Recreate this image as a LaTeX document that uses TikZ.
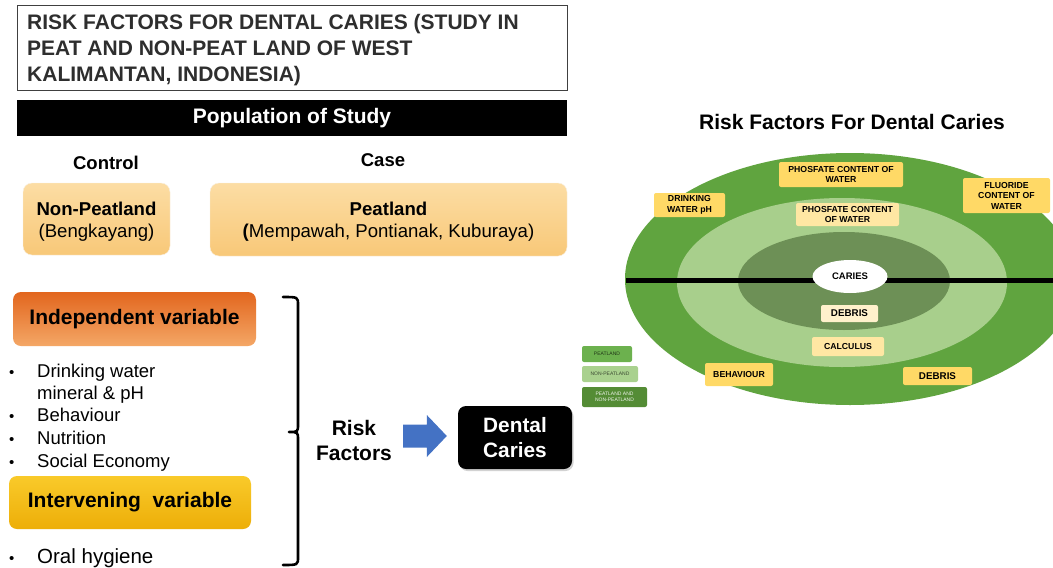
\documentclass[tikz,border=0pt]{standalone}
\usepackage{fontspec}
\setmainfont{Liberation Sans}
\usetikzlibrary{shapes.geometric,shadows}
\definecolor{popA}{HTML}{FCDDA4}
\definecolor{popB}{HTML}{F8C878}
\definecolor{indA}{HTML}{E2661E}
\definecolor{indB}{HTML}{F4A766}
\definecolor{intA}{HTML}{F9CA2A}
\definecolor{intB}{HTML}{EDAE08}
\definecolor{gOut}{HTML}{60A43F}
\definecolor{gMid}{HTML}{A8CF8C}
\definecolor{gIn}{HTML}{6D9056}
\definecolor{lgA}{HTML}{6CB14E}
\definecolor{lgB}{HTML}{A9D18E}
\definecolor{lgC}{HTML}{548C35}
\definecolor{lab}{HTML}{FFD966}
\definecolor{labL}{HTML}{FFE7A3}
\definecolor{labXL}{HTML}{FFF1CC}
\definecolor{arrowblue}{HTML}{4472C4}
\tikzset{
  popbox/.style={rounded corners=9pt, top color=popA, bottom color=popB, draw=popB!90!black!20, inner sep=0pt},
  poptxt/.style={inner sep=0pt, font=\fontsize{18.6}{24}\selectfont},
  varbox/.style={rounded corners=8pt, align=center, inner sep=0pt, font=\fontsize{21}{24}\selectfont\bfseries},
  btxt/.style={anchor=base west, inner sep=0pt, font=\fontsize{18.5}{20}\selectfont},
  dot/.style={anchor=base west, inner sep=0pt, font=\fontsize{15}{20}\selectfont},
  ttl/.style={anchor=base west, inner sep=0pt, font=\fontsize{21}{26}\selectfont\bfseries, text=black!82},
  elab/.style={rounded corners=2pt, fill=lab, align=center, inner sep=0pt, font=\fontsize{8.7}{10.5}\selectfont\bfseries},
  lgd/.style={rounded corners=2pt, align=center, inner sep=0pt, font=\fontsize{5}{5.6}\selectfont},
}
\begin{document}
\begin{tikzpicture}[x=1pt,y=-1pt]
\useasboundingbox (0,0) rectangle (1053,568);
\clip (0,0) rectangle (1053,568);
\fill[white] (0,0) rectangle (1053,568);

% ---- title box
\node[draw=black!75, line width=1pt, minimum width=550pt, minimum height=85pt, inner sep=0pt] (titlebox) at (292,47.5) {};
\node[ttl] (title1) at (27,29.5) {RISK FACTORS FOR DENTAL CARIES (STUDY IN};
\node[ttl] (title2) at (27,55.5) {PEAT AND NON-PEAT LAND OF WEST};
\node[ttl] (title3) at (27,81.5) {KALIMANTAN, INDONESIA)};

% ---- population bar
\node[fill=black, minimum width=550pt, minimum height=36pt, inner sep=0pt, text=white, font=\fontsize{21}{22}\selectfont\bfseries] (pop) at (292,118) {Population of Study};

\node[font=\fontsize{18.5}{20}\selectfont\bfseries, inner sep=0pt] (control) at (106,163) {Control};
\node[font=\fontsize{18.5}{20}\selectfont\bfseries, inner sep=0pt] (case) at (383,160) {Case};

\node[popbox, minimum width=147pt, minimum height=72pt] (nonpeat) at (96.5,219) {};
\node[poptxt, font=\fontsize{18.6}{24}\selectfont\bfseries] (np1) at (96.5,209) {Non-Peatland};
\node[poptxt] (np2) at (96.5,233) {(Bengkayang)};
\node[popbox, minimum width=357pt, minimum height=73pt] (peat) at (388.5,219.5) {};
\node[poptxt, font=\fontsize{18.6}{24}\selectfont\bfseries] (p1) at (388.5,209) {Peatland};
\node[poptxt] (p2) at (388.5,233) {\textbf{(}Mempawah, Pontianak, Kuburaya)};

% ---- variables
\node[varbox, top color=indA, bottom color=indB, minimum width=243pt, minimum height=54pt] (indep) at (134.5,319) {Independent variable};
\node[dot] (d1) at (9,377) {•};
\node[btxt] (t1) at (37,377) {Drinking water};
\node[btxt] (t1b) at (37,399) {mineral \& pH};
\node[dot] (d2) at (9,421) {•};
\node[btxt] (t2) at (37,421) {Behaviour};
\node[dot] (d3) at (9,444) {•};
\node[btxt] (t3) at (37,444) {Nutrition};
\node[dot] (d4) at (9,467) {•};
\node[btxt] (t4) at (37,467) {Social Economy};

\node[varbox, top color=intA, bottom color=intB, minimum width=242pt, minimum height=53pt] (interv) at (130,502.5) {Intervening\ \ variable};
\node[dot] (d5) at (9,563) {•};
\node[btxt, font=\fontsize{20.5}{22}\selectfont] (t5) at (37,563) {Oral hygiene};

% ---- brace
\draw[line width=2.6pt, line join=round, line cap=round]
  (283,297) .. controls (298,297) .. (298,305) -- (298,424)
  .. controls (298,432) .. (289,432)
  .. controls (298,432) .. (298,440) -- (298,557)
  .. controls (298,565) .. (283,565);

\node[align=center, inner sep=0pt, font=\fontsize{21}{25}\selectfont\bfseries] (risk) at (354,440) {Risk\\Factors};

\node[rounded corners=8pt, fill=black, minimum width=114pt, minimum height=63pt, inner sep=0pt, align=center, text=white, font=\fontsize{20.8}{25}\selectfont\bfseries, drop shadow={opacity=0.35, shadow xshift=1.5pt, shadow yshift=-2pt}] (dental) at (515,437.5) {Dental\\Caries};

% block arrow from Risk Factors to Dental Caries
\coordinate (atail) at ([xshift=11pt]risk.east |- 0,436);
\coordinate (atip) at ([xshift=-11pt]dental.west |- 0,436);
\fill[arrowblue] ([yshift=-11.5pt]atail) -- ([xshift=-20pt,yshift=-11.5pt]atip) -- ([xshift=-20pt,yshift=-21pt]atip)
  -- (atip) -- ([xshift=-20pt,yshift=21pt]atip) -- ([xshift=-20pt,yshift=11.5pt]atip) -- ([yshift=11.5pt]atail) -- cycle;

% ---- right diagram
\node[font=\fontsize{21}{22}\selectfont\bfseries, inner sep=0pt] (rtitle) at (852,122) {Risk Factors For Dental Caries};

\fill[gOut] (850,279) ellipse [x radius=225pt, y radius=126pt];
\fill[gMid] (842,282.5) ellipse [x radius=165pt, y radius=84.5pt];
\fill[gIn] (844,281) ellipse [x radius=106pt, y radius=49pt];
\draw[line width=5pt] (626,280) -- (1053,280);
\node[ellipse, fill=white, minimum width=75pt, minimum height=33pt, inner sep=0pt, font=\fontsize{9.5}{10}\selectfont\bfseries] (caries) at (850,276.5) {CARIES};

\node[elab, minimum width=124pt, minimum height=25pt] (phos1) at (841,174.5) {PHOSFATE CONTENT OF\\WATER};
\node[elab, minimum width=71pt, minimum height=24pt] (drink) at (689.5,205) {DRINKING\\WATER pH};
\node[elab, minimum width=87pt, minimum height=35pt] (fluor) at (1006.5,195.5) {FLUORIDE\\CONTENT OF\\WATER};
\node[elab, fill=labL, minimum width=103pt, minimum height=23pt] (phos2) at (847.5,214.5) {PHOSFATE CONTENT\\OF WATER};
\node[elab, fill=labXL, minimum width=57pt, minimum height=17pt, font=\fontsize{9.8}{10}\selectfont\bfseries] (debris1) at (849.5,313.5) {DEBRIS};
\node[elab, fill=labL, minimum width=72pt, minimum height=19pt] (calc) at (848,346.5) {CALCULUS};
\node[elab, minimum width=68pt, minimum height=23pt] (behav) at (739,374.5) {BEHAVIOUR};
\node[elab, minimum width=69pt, minimum height=18pt, font=\fontsize{9.8}{10}\selectfont\bfseries] (debris2) at (937.5,376) {DEBRIS};

% ---- legend
\node[lgd, fill=lgA, text=black!70!lgA, minimum width=50pt, minimum height=16pt] (lg1) at (607,354) {PEATLAND};
\node[lgd, fill=lgB, text=black!65!lgB, minimum width=56pt, minimum height=16pt] (lg2) at (610,374) {NON-PEATLAND};
\node[lgd, fill=lgC, text=white!90!lgC, minimum width=65pt, minimum height=20pt] (lg3) at (614.5,397) {PEATLAND AND\\NON-PEATLAND};
\end{tikzpicture}
\end{document}
